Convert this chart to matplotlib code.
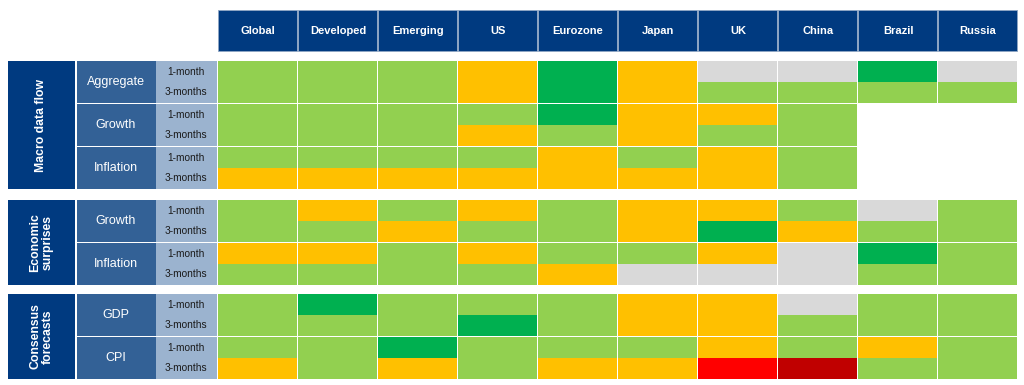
import matplotlib.pyplot as plt
from matplotlib.patches import Rectangle

plt.rcParams['font.family'] = ['Liberation Sans', 'DejaVu Sans']

# Column headers
regions = ["Global", "Developed", "Emerging", "US", "Eurozone", "Japan", "UK", "China", "Brazil", "Russia"]

# Row structure
sections = ["Macro data flow", "Economic\nsurprises", "Consensus\nforecasts"]
indicators = [["Aggregate", "Growth", "Inflation"], ["Growth", "Inflation"], ["GDP", "CPI"]]
periods = ["1-month", "3-months"]

# Signal codes per row (1-month, 3-months for each indicator), one letter per region
# G light green, D dark green, O amber, N grey (n/a), R red, X dark red, '-' empty
signals = [
    "GGGODONNDN",  # Macro Aggregate 1m
    "GGGODOGGGG",  # Macro Aggregate 3m
    "GGGGDOOG--",  # Macro Growth 1m
    "GGGOGOGG--",  # Macro Growth 3m
    "GGGGOGOG--",  # Macro Inflation 1m
    "OOOOOOOG--",  # Macro Inflation 3m
    "GOGOGOOGNG",  # Surprises Growth 1m
    "GGOGGODOGG",  # Surprises Growth 3m
    "OOGOGGONDG",  # Surprises Inflation 1m
    "GGGGONNNGG",  # Surprises Inflation 3m
    "GDGGGOONGG",  # GDP 1m
    "GGGDGOOGGG",  # GDP 3m
    "GGDGGGOGOG",  # CPI 1m
    "OGOGOORXGG",  # CPI 3m
]

palette = {"G": "#92D050", "D": "#00B050", "O": "#FFC000", "N": "#D9D9D9",
           "R": "#FF0000", "X": "#C00000"}
navy = "#003A80"
mid_blue = "#336196"
light_blue = "#9BB3CF"

fig = plt.figure(figsize=(10.24, 3.85), dpi=100)
ax = fig.add_axes([0, 0, 1, 1])
ax.set_xlim(0, 1024)
ax.set_ylim(385, 0)
ax.axis("off")

col_x0, col_w = 218, 80
grp_h = 43
block_tops = [61, 200, 294]

# headers
for j, name in enumerate(regions):
    x = col_x0 + j * col_w
    ax.add_patch(Rectangle((x, 10), col_w - 1.5, 41, facecolor=navy,
                           edgecolor="#8FA6C4", linewidth=0.6))
    ax.text(x + col_w / 2, 30.5, name, color="white", fontsize=8,
            fontweight="bold", ha="center", va="center")

row = 0
for s, sec in enumerate(sections):
    top = block_tops[s]
    n = len(indicators[s])
    ax.add_patch(Rectangle((8, top), 67, n * grp_h - 1, facecolor=navy, linewidth=0))
    ax.text(41.5, top + (n * grp_h - 1) / 2, sec, color="white", fontsize=8.8,
            fontweight="bold", rotation=90, ha="center", va="center",
            linespacing=1.0)
    for k, ind in enumerate(indicators[s]):
        y = top + k * grp_h
        h = grp_h - 1.5
        ax.add_patch(Rectangle((77, y), 78.5, h, facecolor=mid_blue, linewidth=0))
        ax.text(116, y + h / 2, ind, color="white", fontsize=9,
                ha="center", va="center")
        ax.add_patch(Rectangle((155.5, y), 61, h, facecolor=light_blue, linewidth=0))
        for p, per in enumerate(periods):
            ax.text(186, y + h * (0.27 + 0.48 * p), per, color="#1A1A1A",
                    fontsize=7.3, ha="center", va="center")
        for p in range(2):
            codes = signals[row + p]
            for j, c in enumerate(codes):
                if c == "-":
                    continue
                ax.add_patch(Rectangle((col_x0 + j * col_w, y + p * h / 2),
                                       col_w - 1.5, h / 2,
                                       facecolor=palette[c], linewidth=0))
        row += 2

fig.savefig("out.png", dpi=100)
